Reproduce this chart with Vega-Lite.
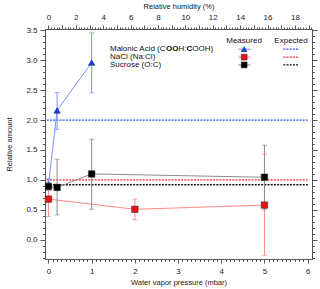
{
  "$schema": "https://vega.github.io/schema/vega-lite/v6.json",
  "width": 267,
  "height": 230,
  "autosize": "none",
  "padding": {"left": 45, "top": 29, "right": 8, "bottom": 30},
  "background": "white",
  "config": {
    "font": "Liberation Sans",
    "view": {"stroke": "#555", "strokeWidth": 1},
    "axis": {
      "grid": false,
      "domainColor": "#555",
      "tickColor": "#555",
      "labelColor": "#222",
      "labelFont": "Liberation Sans",
      "labelFontSize": 8,
      "titleFont": "Liberation Sans",
      "titleFontSize": 7.5,
      "titleFontWeight": "normal",
      "titleColor": "#222",
      "labelOverlap": false
    }
  },
  "datasets": {
    "measured": [
      {"series": "Malonic Acid", "p": 0, "y": 0.92, "lo": 0.85, "hi": 1.02},
      {"series": "Malonic Acid", "p": 0.2, "y": 2.16, "lo": 1.845, "hi": 2.46},
      {"series": "Malonic Acid", "p": 1, "y": 2.96, "lo": 2.455, "hi": 3.455},
      {"series": "NaCl", "p": 0, "y": 0.68, "lo": 0.39, "hi": 0.97},
      {"series": "NaCl", "p": 2, "y": 0.51, "lo": 0.34, "hi": 0.68},
      {"series": "NaCl", "p": 5, "y": 0.58, "lo": -0.26, "hi": 1.43},
      {"series": "Sucrose", "p": 0, "y": 0.89, "lo": 0.83, "hi": 0.95},
      {"series": "Sucrose", "p": 0.2, "y": 0.875, "lo": 0.415, "hi": 1.345},
      {"series": "Sucrose", "p": 1, "y": 1.1, "lo": 0.51, "hi": 1.68},
      {"series": "Sucrose", "p": 5, "y": 1.045, "lo": 0.5, "hi": 1.58}
    ],
    "expected": [
      {"series": "Malonic Acid", "value": 2.0},
      {"series": "NaCl", "value": 1.0},
      {"series": "Sucrose", "value": 0.92}
    ],
    "legendText": [
      {"k": "m1", "label": "Malonic Acid (C"},
      {"k": "m2", "label": "OO"},
      {"k": "m3", "label": "H:"},
      {"k": "m4", "label": "C"},
      {"k": "m5", "label": "OOH)"},
      {"k": "n", "label": "NaCl (Na:Cl)"},
      {"k": "s", "label": "Sucrose (O:C)"},
      {"k": "hm", "label": "Measured"},
      {"k": "he", "label": "Expected"}
    ]
  },
  "layer": [
    {
      "layer": [
        {
          "data": {"name": "expected"},
          "mark": {"type": "rule", "strokeDash": [2, 1.2], "strokeWidth": 1.3},
          "encoding": {
            "x": {"datum": -0.04, "type": "quantitative", "axis": null},
            "x2": {"datum": 6.0},
            "y": {"field": "value", "type": "quantitative", "axis": null},
            "stroke": {"field": "series", "type": "nominal", "scale": {"domain": ["Malonic Acid", "NaCl", "Sucrose"], "range": ["#2f4fff", "#ff2a2a", "#111111"]}, "legend": null}
          }
        },
        {
          "data": {"name": "measured"},
          "mark": {"type": "line", "strokeWidth": 1},
          "encoding": {
            "x": {"field": "p", "type": "quantitative", "scale": {"domain": [-0.08, 6.1], "nice": false, "zero": false}, "axis": null},
            "y": {"field": "y", "type": "quantitative", "scale": {"domain": [-0.32, 3.52], "nice": false, "zero": false}, "axis": null},
            "color": {"field": "series", "type": "nominal", "scale": {"domain": ["Malonic Acid", "NaCl", "Sucrose"], "range": ["#7890ff", "#ff8a8a", "#8c8c8c"]}, "legend": null}
          }
        },
        {
          "data": {"name": "measured"},
          "mark": {"type": "rule", "strokeWidth": 1},
          "encoding": {
            "x": {"field": "p", "type": "quantitative", "axis": null},
            "y": {"field": "lo", "type": "quantitative", "axis": null},
            "y2": {"field": "hi"},
            "color": {"field": "series", "type": "nominal", "legend": null}
          }
        },
        {
          "data": {"name": "measured"},
          "mark": {"type": "tick", "orient": "horizontal", "size": 5, "thickness": 1},
          "encoding": {
            "x": {"field": "p", "type": "quantitative", "axis": null},
            "y": {"field": "lo", "type": "quantitative", "axis": null},
            "color": {"field": "series", "type": "nominal", "legend": null}
          }
        },
        {
          "data": {"name": "measured"},
          "mark": {"type": "tick", "orient": "horizontal", "size": 5, "thickness": 1},
          "encoding": {
            "x": {"field": "p", "type": "quantitative", "axis": null},
            "y": {"field": "hi", "type": "quantitative", "axis": null},
            "color": {"field": "series", "type": "nominal", "legend": null}
          }
        },
        {
          "data": {"name": "measured"},
          "mark": {"type": "point", "filled": true, "size": 42, "opacity": 1, "stroke": "#222", "strokeWidth": 0.5},
          "encoding": {
            "x": {"field": "p", "type": "quantitative", "axis": null},
            "y": {"field": "y", "type": "quantitative", "axis": null},
            "fill": {"field": "series", "type": "nominal", "scale": {"domain": ["Malonic Acid", "NaCl", "Sucrose"], "range": ["#1040ff", "#ee1111", "#000000"]}, "legend": null},
            "shape": {"field": "series", "type": "nominal", "scale": {"domain": ["Malonic Acid", "NaCl", "Sucrose"], "range": ["triangle-up", "square", "square"]}, "legend": null}
          }
        },
        {
          "data": {"name": "legendText"},
          "transform": [{"filter": "datum.k == 'm1'"}],
          "mark": {"type": "text", "align": "left", "baseline": "middle", "fontSize": 8, "color": "#111"},
          "encoding": {"x": {"datum": 1.424, "type": "quantitative", "axis": null}, "y": {"datum": 3.183, "type": "quantitative", "axis": null}, "text": {"field": "label"}}
        },
        {
          "data": {"name": "legendText"},
          "transform": [{"filter": "datum.k == 'm2'"}],
          "mark": {"type": "text", "align": "left", "baseline": "middle", "fontSize": 8, "fontWeight": "bold", "color": "#111"},
          "encoding": {"x": {"datum": 2.721, "type": "quantitative", "axis": null}, "y": {"datum": 3.183, "type": "quantitative", "axis": null}, "text": {"field": "label"}}
        },
        {
          "data": {"name": "legendText"},
          "transform": [{"filter": "datum.k == 'm3'"}],
          "mark": {"type": "text", "align": "left", "baseline": "middle", "fontSize": 8, "color": "#111"},
          "encoding": {"x": {"datum": 3.01, "type": "quantitative", "axis": null}, "y": {"datum": 3.183, "type": "quantitative", "axis": null}, "text": {"field": "label"}}
        },
        {
          "data": {"name": "legendText"},
          "transform": [{"filter": "datum.k == 'm4'"}],
          "mark": {"type": "text", "align": "left", "baseline": "middle", "fontSize": 8, "fontWeight": "bold", "color": "#111"},
          "encoding": {"x": {"datum": 3.194, "type": "quantitative", "axis": null}, "y": {"datum": 3.183, "type": "quantitative", "axis": null}, "text": {"field": "label"}}
        },
        {
          "data": {"name": "legendText"},
          "transform": [{"filter": "datum.k == 'm5'"}],
          "mark": {"type": "text", "align": "left", "baseline": "middle", "fontSize": 8, "color": "#111"},
          "encoding": {"x": {"datum": 3.328, "type": "quantitative", "axis": null}, "y": {"datum": 3.183, "type": "quantitative", "axis": null}, "text": {"field": "label"}}
        },
        {
          "data": {"name": "legendText"},
          "transform": [{"filter": "datum.k == 'n'"}],
          "mark": {"type": "text", "align": "left", "baseline": "middle", "fontSize": 8, "color": "#111"},
          "encoding": {"x": {"datum": 1.424, "type": "quantitative", "axis": null}, "y": {"datum": 3.05, "type": "quantitative", "axis": null}, "text": {"field": "label"}}
        },
        {
          "data": {"name": "legendText"},
          "transform": [{"filter": "datum.k == 's'"}],
          "mark": {"type": "text", "align": "left", "baseline": "middle", "fontSize": 8, "color": "#111"},
          "encoding": {"x": {"datum": 1.424, "type": "quantitative", "axis": null}, "y": {"datum": 2.92, "type": "quantitative", "axis": null}, "text": {"field": "label"}}
        },
        {
          "data": {"name": "legendText"},
          "transform": [{"filter": "datum.k == 'hm'"}],
          "mark": {"type": "text", "align": "center", "baseline": "middle", "fontSize": 8, "color": "#111"},
          "encoding": {"x": {"datum": 4.527, "type": "quantitative", "axis": null}, "y": {"datum": 3.32, "type": "quantitative", "axis": null}, "text": {"field": "label"}}
        },
        {
          "data": {"name": "legendText"},
          "transform": [{"filter": "datum.k == 'he'"}],
          "mark": {"type": "text", "align": "center", "baseline": "middle", "fontSize": 8, "color": "#111"},
          "encoding": {"x": {"datum": 5.615, "type": "quantitative", "axis": null}, "y": {"datum": 3.32, "type": "quantitative", "axis": null}, "text": {"field": "label"}}
        },
        {
          "data": {"name": "expected"},
          "transform": [{"filter": "datum.series == 'Malonic Acid'"}],
          "layer": [
            {"mark": {"type": "rule", "strokeWidth": 1}, "encoding": {"x": {"datum": 4.395, "type": "quantitative", "axis": null}, "x2": {"datum": 4.68}, "y": {"datum": 3.183, "type": "quantitative", "axis": null}, "color": {"field": "series", "type": "nominal", "legend": null}}},
            {"mark": {"type": "point", "filled": true, "size": 34, "opacity": 1, "stroke": "#222", "strokeWidth": 0.5}, "encoding": {"x": {"datum": 4.53, "type": "quantitative", "axis": null}, "y": {"datum": 3.183, "type": "quantitative", "axis": null}, "fill": {"field": "series", "type": "nominal", "legend": null}, "shape": {"field": "series", "type": "nominal", "legend": null}}},
            {"mark": {"type": "rule", "strokeDash": [2, 1.2], "strokeWidth": 1.3}, "encoding": {"x": {"datum": 5.436, "type": "quantitative", "axis": null}, "x2": {"datum": 5.8}, "y": {"datum": 3.183, "type": "quantitative", "axis": null}, "stroke": {"field": "series", "type": "nominal", "legend": null}}}
          ]
        },
        {
          "data": {"name": "expected"},
          "transform": [{"filter": "datum.series == 'NaCl'"}],
          "layer": [
            {"mark": {"type": "rule", "strokeWidth": 1}, "encoding": {"x": {"datum": 4.395, "type": "quantitative", "axis": null}, "x2": {"datum": 4.68}, "y": {"datum": 3.05, "type": "quantitative", "axis": null}, "color": {"field": "series", "type": "nominal", "legend": null}}},
            {"mark": {"type": "point", "filled": true, "size": 34, "opacity": 1, "stroke": "#222", "strokeWidth": 0.5}, "encoding": {"x": {"datum": 4.53, "type": "quantitative", "axis": null}, "y": {"datum": 3.05, "type": "quantitative", "axis": null}, "fill": {"field": "series", "type": "nominal", "legend": null}, "shape": {"field": "series", "type": "nominal", "legend": null}}},
            {"mark": {"type": "rule", "strokeDash": [2, 1.2], "strokeWidth": 1.3}, "encoding": {"x": {"datum": 5.436, "type": "quantitative", "axis": null}, "x2": {"datum": 5.8}, "y": {"datum": 3.05, "type": "quantitative", "axis": null}, "stroke": {"field": "series", "type": "nominal", "legend": null}}}
          ]
        },
        {
          "data": {"name": "expected"},
          "transform": [{"filter": "datum.series == 'Sucrose'"}],
          "layer": [
            {"mark": {"type": "rule", "strokeWidth": 1}, "encoding": {"x": {"datum": 4.395, "type": "quantitative", "axis": null}, "x2": {"datum": 4.68}, "y": {"datum": 2.92, "type": "quantitative", "axis": null}, "color": {"field": "series", "type": "nominal", "legend": null}}},
            {"mark": {"type": "point", "filled": true, "size": 34, "opacity": 1, "stroke": "#222", "strokeWidth": 0.5}, "encoding": {"x": {"datum": 4.53, "type": "quantitative", "axis": null}, "y": {"datum": 2.92, "type": "quantitative", "axis": null}, "fill": {"field": "series", "type": "nominal", "legend": null}, "shape": {"field": "series", "type": "nominal", "legend": null}}},
            {"mark": {"type": "rule", "strokeDash": [2, 1.2], "strokeWidth": 1.3}, "encoding": {"x": {"datum": 5.436, "type": "quantitative", "axis": null}, "x2": {"datum": 5.8}, "y": {"datum": 2.92, "type": "quantitative", "axis": null}, "stroke": {"field": "series", "type": "nominal", "legend": null}}}
          ]
        }
      ]
    },
    {
      "data": {"name": "expected"},
      "mark": {"type": "point", "opacity": 0},
      "encoding": {
        "x": {
          "datum": 0, "type": "quantitative",
          "scale": {"domain": [-0.08, 6.1], "nice": false, "zero": false},
          "axis": {
            "orient": "bottom",
            "title": "Water vapor pressure (mbar)",
            "values": [0,0.1,0.2,0.3,0.4,0.5,0.6,0.7,0.8,0.9,1,1.1,1.2,1.3,1.4,1.5,1.6,1.7,1.8,1.9,2,2.1,2.2,2.3,2.4,2.5,2.6,2.7,2.8,2.9,3,3.1,3.2,3.3,3.4,3.5,3.6,3.7,3.8,3.9,4,4.1,4.2,4.3,4.4,4.5,4.6,4.7,4.8,4.9,5,5.1,5.2,5.3,5.4,5.5,5.6,5.7,5.8,5.9,6],
            "labelExpr": "abs(datum.value-round(datum.value))<0.01 ? format(datum.value,'.0f') : ''",
            "tickSize": {"condition": {"test": "abs(datum.value-round(datum.value))<0.01", "value": 4}, "value": 2.5},
            "labelOverlap": false,
            "labelPadding": 4,
            "titlePadding": 3
          }
        },
        "y": {
          "field": "value", "type": "quantitative",
          "scale": {"domain": [-0.32, 3.52], "nice": false, "zero": false},
          "axis": {
            "orient": "left",
            "title": "Relative amount",
            "values": [-0.3,-0.2,-0.1,0,0.1,0.2,0.3,0.4,0.5,0.6,0.7,0.8,0.9,1,1.1,1.2,1.3,1.4,1.5,1.6,1.7,1.8,1.9,2,2.1,2.2,2.3,2.4,2.5,2.6,2.7,2.8,2.9,3,3.1,3.2,3.3,3.4,3.5],
            "labelExpr": "abs(datum.value*2-round(datum.value*2))<0.01 ? format(datum.value,'.1f') : ''",
            "tickSize": {"condition": {"test": "abs(datum.value*2-round(datum.value*2))<0.01", "value": 5}, "value": 2.5},
            "labelOverlap": false,
            "labelPadding": 3,
            "titlePadding": 12
          }
        }
      }
    },
    {
      "data": {"name": "expected"},
      "mark": {"type": "point", "opacity": 0},
      "encoding": {
        "x": {
          "datum": 0, "type": "quantitative",
          "scale": {"domain": [-0.2524, 19.249], "nice": false, "zero": false},
          "axis": {
            "orient": "top",
            "title": "Relative humidity (%)",
            "values": [0,0.2,0.4,0.6,0.8,1,1.2,1.4,1.6,1.8,2,2.2,2.4,2.6,2.8,3,3.2,3.4,3.6,3.8,4,4.2,4.4,4.6,4.8,5,5.2,5.4,5.6,5.8,6,6.2,6.4,6.6,6.8,7,7.2,7.4,7.6,7.8,8,8.2,8.4,8.6,8.8,9,9.2,9.4,9.6,9.8,10,10.2,10.4,10.6,10.8,11,11.2,11.4,11.6,11.8,12,12.2,12.4,12.6,12.8,13,13.2,13.4,13.6,13.8,14,14.2,14.4,14.6,14.8,15,15.2,15.4,15.6,15.8,16,16.2,16.4,16.6,16.8,17,17.2,17.4,17.6,17.8,18,18.2,18.4,18.6,18.8,19,19.2],
            "labelExpr": "abs(datum.value/2-round(datum.value/2))<0.01 ? format(datum.value,'.0f') : ''",
            "tickSize": {"condition": {"test": "abs(datum.value-round(datum.value))<0.01", "value": 4}, "value": 2},
            "labelOverlap": false,
            "labelPadding": 4,
            "titlePadding": 3
          }
        },
        "y": {
          "field": "value", "type": "quantitative",
          "scale": {"domain": [-0.32, 3.52], "nice": false, "zero": false},
          "axis": {
            "orient": "right",
            "title": null,
            "labels": false,
            "values": [-0.3,-0.2,-0.1,0,0.1,0.2,0.3,0.4,0.5,0.6,0.7,0.8,0.9,1,1.1,1.2,1.3,1.4,1.5,1.6,1.7,1.8,1.9,2,2.1,2.2,2.3,2.4,2.5,2.6,2.7,2.8,2.9,3,3.1,3.2,3.3,3.4,3.5],
            "tickSize": {"condition": {"test": "abs(datum.value*2-round(datum.value*2))<0.01", "value": 5}, "value": 2.5}
          }
        }
      }
    }
  ],
  "resolve": {
    "scale": {"x": "independent"},
    "axis": {"x": "independent", "y": "independent"}
  }
}
